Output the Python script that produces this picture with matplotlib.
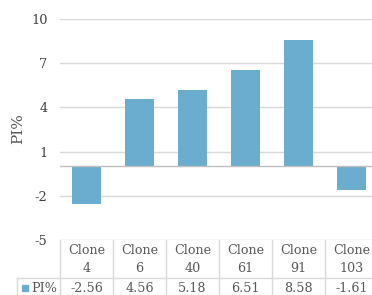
import matplotlib
matplotlib.use("Agg")
import matplotlib.pyplot as plt
from matplotlib.lines import Line2D
import matplotlib.transforms as mtransforms

# data
clones = ["Clone\n4", "Clone\n6", "Clone\n40", "Clone\n61", "Clone\n91", "Clone\n103"]
pi_values = [-2.56, 4.56, 5.18, 6.51, 8.58, -1.61]
value_labels = ["-2.56", "4.56", "5.18", "6.51", "8.58", "-1.61"]
yticks = [-5, -2, 1, 4, 7, 10]
series_name = "PI%"

plt.rcParams['font.family'] = ['DejaVu Serif']

W, H = 372, 295
bar_color = "#6AADCF"
grid_color = "#D9D9D9"
text_color = "#595959"
fs = 9.2

fig = plt.figure(figsize=(W / 100, H / 100), dpi=100)
# plot area runs off the right edge like in the screenshot
ax = fig.add_axes([60 / W, 1 - 240 / H, 318 / W, 221 / H])

x = list(range(len(clones)))
ax.bar(x, pi_values, width=0.54, color=bar_color, zorder=3)
ax.axhline(0, color="#BFBFBF", lw=1, zorder=4)

ax.set_xlim(-0.5, len(clones) - 0.5)
ax.set_ylim(-5, 10)
ax.set_yticks(yticks)
ax.set_yticklabels([str(t) for t in yticks])
ax.yaxis.grid(True, color=grid_color, lw=1)
ax.set_axisbelow(True)
ax.set_xticks([])
ax.tick_params(axis="y", length=0, pad=9, labelsize=9.3, labelcolor="#404040")
for s in ax.spines.values():
    s.set_visible(False)

fig.text(18 / W, 1 - 129 / H, series_name, rotation=90, ha="center", va="center",
         fontsize=11, color=text_color)

# data table under the plot
blend = mtransforms.blended_transform_factory(ax.transData, fig.transFigure)
def fy(py):
    return 1 - py / H

for i in range(len(clones) + 1):
    ax.add_line(Line2D([i - 0.5, i - 0.5], [fy(240), fy(H)], transform=blend,
                       color=grid_color, lw=1, clip_on=False))
fig.add_artist(Line2D([17 / W, 1], [fy(278), fy(278)], color=grid_color, lw=1))
fig.add_artist(Line2D([17 / W, 17 / W], [fy(278), 0], color=grid_color, lw=1))

for i, lab in enumerate(clones):
    top, bot = lab.split("\n")
    ax.text(i, fy(250), top, transform=blend, ha="center", va="center",
            fontsize=fs, color=text_color, clip_on=False)
    ax.text(i, fy(268), bot, transform=blend, ha="center", va="center",
            fontsize=fs, color=text_color, clip_on=False)
    ax.text(i, fy(288), value_labels[i], transform=blend, ha="center", va="center",
            fontsize=fs, color=text_color, clip_on=False)

fig.add_artist(plt.Rectangle((22 / W, fy(291)), 6 / W, 6 / H, color=bar_color))
fig.text(31 / W, fy(288), series_name, ha="left", va="center", fontsize=fs, color=text_color)

fig.savefig("out.png", dpi=100)
